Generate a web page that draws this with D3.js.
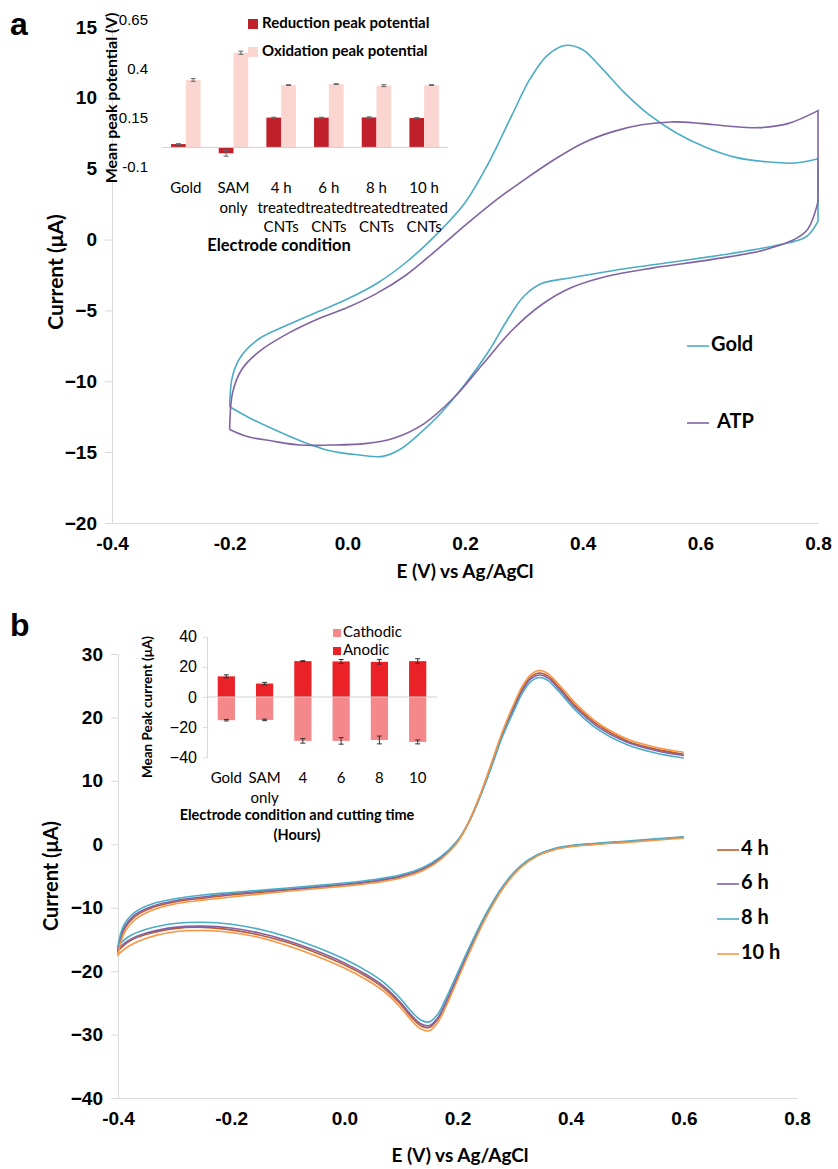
<!DOCTYPE html>
<html>
<head>
<meta charset="utf-8">
<script src="https://cdn.jsdelivr.net/npm/d3@7/dist/d3.min.js"></script>
<style>
body { margin: 0; background: #fff; }
svg { display: block; font-family: 'Lato', 'Noto Sans', sans-serif; }
.axis path, .axis line { stroke: #d9d9d9; }
.axis text { fill: #000; }
</style>
</head>
<body>
<svg width="838" height="1169"></svg>
<script>
// ---- panel a data: cyclic voltammograms (E in V, I in uA), forward and reverse sweeps ----
var goldForward = [
    [-0.2, -11.8], [-0.195, -9.6], [-0.18, -8.2], [-0.15, -7.0], [-0.1, -6.0], [-0.05, -5.1],
    [0.0, -4.2], [0.05, -3.1], [0.1, -1.6], [0.15, 0.3], [0.2, 2.6], [0.24, 5.4], [0.28, 8.8],
    [0.31, 11.3], [0.34, 13.0], [0.37, 13.7], [0.4, 13.4], [0.43, 12.2], [0.47, 10.4], [0.51, 8.9],
    [0.56, 7.5], [0.61, 6.5], [0.66, 5.8], [0.71, 5.5], [0.76, 5.4], [0.8, 5.7]
];
var goldReverse = [
    [0.8, 1.3], [0.78, 0.2], [0.73, -0.4], [0.65, -1.0], [0.55, -1.6], [0.45, -2.2], [0.38, -2.7],
    [0.33, -3.1], [0.3, -4.0], [0.27, -5.8], [0.24, -7.9], [0.2, -10.2], [0.16, -12.2], [0.12, -13.8],
    [0.09, -14.8], [0.06, -15.3], [0.02, -15.2], [-0.03, -14.9], [-0.08, -14.2], [-0.13, -13.3],
    [-0.17, -12.5], [-0.2, -11.8]
];
var atpForward = [
    [-0.2, -13.4], [-0.195, -10.8], [-0.18, -9.2], [-0.15, -7.9], [-0.1, -6.6], [-0.05, -5.6],
    [0.0, -4.8], [0.05, -3.8], [0.1, -2.5], [0.15, -0.8], [0.2, 1.0], [0.25, 2.7], [0.3, 4.2],
    [0.35, 5.6], [0.4, 6.8], [0.45, 7.6], [0.5, 8.1], [0.55, 8.3], [0.6, 8.2], [0.65, 8.0],
    [0.7, 7.9], [0.75, 8.2], [0.8, 9.1]
];
var atpReverse = [
    [0.8, 2.7], [0.78, 0.6], [0.72, -0.6], [0.62, -1.4], [0.52, -2.0], [0.44, -2.6], [0.38, -3.4],
    [0.33, -4.6], [0.28, -6.4], [0.23, -8.8], [0.18, -11.2], [0.13, -13.0], [0.08, -14.0],
    [0.03, -14.4], [-0.03, -14.5], [-0.08, -14.5], [-0.13, -14.2], [-0.17, -13.9], [-0.2, -13.4]
];

// ---- panel b data: cathodic sweep (0.6 -> -0.4) then anodic sweep (-0.4 -> 0.6) ----
var cv4hDown = [
    [0.6, 1.1], [0.5, 0.4], [0.45, 0.1], [0.4, -0.3], [0.37, -0.8], [0.34, -1.8], [0.31, -3.7],
    [0.28, -6.9], [0.25, -11.4], [0.22, -17.0], [0.2, -21.0], [0.18, -25.0], [0.165, -27.6],
    [0.15, -28.9], [0.135, -28.6], [0.12, -27.4], [0.1, -25.3], [0.07, -22.7], [0.04, -20.9],
    [0.0, -19.0], [-0.05, -17.1], [-0.1, -15.5], [-0.15, -14.3], [-0.2, -13.5], [-0.25, -13.1],
    [-0.3, -13.3], [-0.35, -14.2], [-0.38, -15.3], [-0.4, -16.8]
];
var cv4hUp = [
    [-0.4, -16.8], [-0.39, -13.6], [-0.37, -11.4], [-0.34, -10.0], [-0.3, -9.1], [-0.25, -8.5],
    [-0.2, -8.0], [-0.1, -7.2], [0.0, -6.4], [0.05, -5.9], [0.1, -5.1], [0.14, -3.9], [0.17, -2.3],
    [0.2, 0.4], [0.22, 3.5], [0.24, 7.7], [0.26, 12.6], [0.28, 17.6], [0.3, 21.8], [0.315, 24.6],
    [0.33, 26.4], [0.345, 27.0], [0.36, 26.5], [0.38, 24.7], [0.41, 21.7], [0.45, 18.7],
    [0.5, 16.3], [0.55, 15.0], [0.6, 14.2]
];
var cv6hDown = [
    [0.6, 1.1], [0.5, 0.4], [0.45, 0.1], [0.4, -0.3], [0.37, -0.8], [0.34, -1.8], [0.31, -3.6],
    [0.28, -6.8], [0.25, -11.2], [0.22, -16.8], [0.2, -20.8], [0.18, -24.8], [0.165, -27.4],
    [0.15, -28.6], [0.135, -28.3], [0.12, -27.1], [0.1, -25.0], [0.07, -22.4], [0.04, -20.6],
    [0.0, -18.7], [-0.05, -16.8], [-0.1, -15.2], [-0.15, -14.0], [-0.2, -13.2], [-0.25, -12.9],
    [-0.3, -13.1], [-0.35, -14.0], [-0.38, -15.1], [-0.4, -16.5]
];
var cv6hUp = [
    [-0.4, -16.5], [-0.39, -13.3], [-0.37, -11.1], [-0.34, -9.8], [-0.3, -8.9], [-0.25, -8.3],
    [-0.2, -7.8], [-0.1, -7.1], [0.0, -6.3], [0.05, -5.8], [0.1, -5.0], [0.14, -3.8], [0.17, -2.2],
    [0.2, 0.5], [0.22, 3.5], [0.24, 7.6], [0.26, 12.4], [0.28, 17.4], [0.3, 21.5], [0.315, 24.3],
    [0.33, 26.1], [0.345, 26.7], [0.36, 26.2], [0.38, 24.4], [0.41, 21.4], [0.45, 18.4],
    [0.5, 16.1], [0.55, 14.8], [0.6, 14.0]
];
var cv8hDown = [
    [0.6, 1.2], [0.5, 0.5], [0.45, 0.2], [0.4, -0.2], [0.37, -0.7], [0.34, -1.7], [0.31, -3.5],
    [0.28, -6.6], [0.25, -11.0], [0.22, -16.4], [0.2, -20.3], [0.18, -24.2], [0.165, -26.8],
    [0.15, -28.0], [0.135, -27.7], [0.12, -26.5], [0.1, -24.4], [0.07, -21.8], [0.04, -20.0],
    [0.0, -18.1], [-0.05, -16.2], [-0.1, -14.6], [-0.15, -13.4], [-0.2, -12.6], [-0.25, -12.3],
    [-0.3, -12.5], [-0.35, -13.4], [-0.38, -14.5], [-0.4, -16.0]
];
var cv8hUp = [
    [-0.4, -16.0], [-0.39, -12.8], [-0.37, -10.7], [-0.34, -9.4], [-0.3, -8.6], [-0.25, -8.0],
    [-0.2, -7.6], [-0.1, -6.9], [0.0, -6.1], [0.05, -5.6], [0.1, -4.8], [0.14, -3.6], [0.17, -2.0],
    [0.2, 0.6], [0.22, 3.5], [0.24, 7.5], [0.26, 12.2], [0.28, 17.1], [0.3, 21.1], [0.315, 23.9],
    [0.33, 25.7], [0.345, 26.3], [0.36, 25.8], [0.38, 24.0], [0.41, 21.0], [0.45, 18.0],
    [0.5, 15.7], [0.55, 14.4], [0.6, 13.6]
];
var cv10hDown = [
    [0.6, 1.0], [0.5, 0.3], [0.45, 0.0], [0.4, -0.4], [0.37, -0.9], [0.34, -1.9], [0.31, -3.8],
    [0.28, -7.0], [0.25, -11.6], [0.22, -17.3], [0.2, -21.4], [0.18, -25.5], [0.165, -28.1],
    [0.15, -29.4], [0.135, -29.1], [0.12, -27.9], [0.1, -25.8], [0.07, -23.2], [0.04, -21.4],
    [0.0, -19.5], [-0.05, -17.6], [-0.1, -16.0], [-0.15, -14.7], [-0.2, -13.9], [-0.25, -13.6],
    [-0.3, -13.8], [-0.35, -14.8], [-0.38, -16.0], [-0.4, -17.4]
];
var cv10hUp = [
    [-0.4, -17.4], [-0.39, -14.2], [-0.37, -11.9], [-0.34, -10.4], [-0.3, -9.4], [-0.25, -8.8],
    [-0.2, -8.3], [-0.1, -7.4], [0.0, -6.6], [0.05, -6.1], [0.1, -5.3], [0.14, -4.1], [0.17, -2.4],
    [0.2, 0.3], [0.22, 3.5], [0.24, 7.8], [0.26, 12.8], [0.28, 17.9], [0.3, 22.2], [0.315, 25.0],
    [0.33, 26.8], [0.345, 27.4], [0.36, 26.9], [0.38, 25.1], [0.41, 22.1], [0.45, 19.0],
    [0.5, 16.6], [0.55, 15.3], [0.6, 14.5]
];

// ---- axis ticks ----
var potentialTicks = [-0.4, -0.2, 0.0, 0.2, 0.4, 0.6, 0.8];
var currentTicksA = [-20, -15, -10, -5, 0, 5, 10, 15];
var currentTicksB = [-40, -30, -20, -10, 0, 10, 20, 30];

// ---- inset a: peak potentials ----
var insetACategories = [['Gold'], ['SAM', 'only'], ['4 h', 'treated', 'CNTs'], ['6 h', 'treated', 'CNTs'],
    ['8 h', 'treated', 'CNTs'], ['10 h', 'treated', 'CNTs']];
var reductionPeak = [0.017, -0.03, 0.152, 0.152, 0.153, 0.150];
var reductionErr = [0.002, 0.015, 0.002, 0.002, 0.003, 0.002];
var oxidationPeak = [0.344, 0.483, 0.318, 0.323, 0.315, 0.318];
var oxidationErr = [0.007, 0.008, 0.002, 0.002, 0.005, 0.002];
var insetATicks = [-0.1, 0.15, 0.4, 0.65];

// ---- inset b: peak currents ----
var insetBCategories = [['Gold'], ['SAM', 'only'], ['4'], ['6'], ['8'], ['10']];
var anodicPeak = [13.7, 8.9, 23.8, 23.6, 23.3, 23.8];
var anodicErr = [1.0, 0.8, 0.3, 1.3, 1.5, 1.6];
var cathodicPeak = [-15.4, -15.2, -29.1, -29.1, -28.5, -29.8];
var cathodicErr = [0.5, 0.5, 1.5, 2.2, 2.6, 1.3];
var insetBTicks = [-40, -20, 0, 20, 40];

var svg = d3.select('svg');
var fmt1 = function(d){ return d.toFixed(1); };

// draws one main CV panel; each series is a list of sweeps joined by straight segments
function drawPanel(pad, yDomain, yTicks, series) {
    var x = d3.scaleLinear().domain([-0.4, 0.8]).range([pad.l, pad.r]);
    var y = d3.scaleLinear().domain(yDomain).range([pad.b, pad.t]);

    var yAxis = svg.append('g')
        .attr('class', 'axis')
        .attr('transform', 'translate(' + pad.l + ',0)')
        .call(d3.axisLeft(y).tickValues(yTicks).tickSize(7).tickSizeOuter(0).tickPadding(8));
    yAxis.selectAll('text').style('font-size', '19px').style('font-weight', 'bold');

    var xAxis = svg.append('g')
        .attr('class', 'axis')
        .attr('transform', 'translate(0,' + pad.b + ')')
        .call(d3.axisBottom(x).tickValues(potentialTicks).tickSize(0).tickSizeOuter(0)
            .tickPadding(14).tickFormat(fmt1));
    xAxis.selectAll('text').style('font-size', '19px').style('font-weight', 'bold');

    var line = d3.line()
        .x(function(d){ return x(d[0]); })
        .y(function(d){ return y(d[1]); })
        .curve(d3.curveCatmullRom.alpha(0.5));

    series.forEach(function(s){
        var d = s.sweeps.map(function(sw, i){
            var p = line(sw);
            return i ? 'L' + p.slice(1) : p;
        }).join('');
        svg.append('path')
            .attr('d', d)
            .attr('fill', 'none')
            .attr('stroke', s.color)
            .attr('stroke-width', 1.6);
    });
}

var padA = {l: 112, r: 818, t: 27, b: 523};
drawPanel(padA, [-20, 15], currentTicksA, [
    {sweeps: [goldForward, goldReverse], color: '#4bacc6'},
    {sweeps: [atpForward, atpReverse], color: '#8064a2'}
]);

var padB = {l: 118, r: 797, t: 654, b: 1098};
drawPanel(padB, [-40, 30], currentTicksB, [
    {sweeps: [cv4hDown, cv4hUp], color: '#c0592b'},
    {sweeps: [cv6hDown, cv6hUp], color: '#7f62a8'},
    {sweeps: [cv8hDown, cv8hUp], color: '#4bacc6'},
    {sweeps: [cv10hDown, cv10hUp], color: '#f79646'}
]);

// panel letters
svg.append('text').attr('x', 10).attr('y', 35).text('a')
    .style('font-family', 'Liberation Sans, Arial, sans-serif').style('font-size', '32px').style('font-weight', 'bold');
svg.append('text').attr('x', 10).attr('y', 636).text('b')
    .style('font-family', 'Liberation Sans, Arial, sans-serif').style('font-size', '32px').style('font-weight', 'bold');

// axis titles
function axisTitle(x, y, txt, rotate, size) {
    svg.append('text')
        .attr('transform', 'translate(' + [x, y] + ')' + (rotate ? ' rotate(-90)' : ''))
        .attr('text-anchor', 'middle')
        .attr('dominant-baseline', 'middle')
        .style('font-size', size + 'px')
        .style('font-weight', 'bold')
        .text(txt);
}
axisTitle(58, 272, 'Current (\u03bcA)', true, 21);
axisTitle(465, 573, 'E (V) vs Ag/AgCl', false, 19);
axisTitle(53, 876, 'Current (\u03bcA)', true, 20);
axisTitle(460, 1157, 'E (V) vs Ag/AgCl', false, 19);

// main legends
function legendItem(x, y, color, label, gap) {
    svg.append('line').attr('x1', x).attr('x2', x + 22).attr('y1', y).attr('y2', y)
        .attr('stroke', color).attr('stroke-width', 1.6);
    svg.append('text').attr('x', x + 24 + (gap || 0)).attr('y', y)
        .attr('dominant-baseline', 'middle')
        .style('font-size', '20px').style('font-weight', 'bold').text(label);
}
legendItem(687, 346, '#4bacc6', 'Gold');
legendItem(687, 423, '#8064a2', 'ATP', 6);
legendItem(717, 850, '#c0592b', '4 h');
legendItem(717, 884, '#7f62a8', '6 h');
legendItem(717, 919, '#4bacc6', '8 h');
legendItem(717, 954, '#f79646', '10 h');

// error bar helper
function errorBar(g, cx, yTop, yBot, color) {
    g.append('line').attr('x1', cx).attr('x2', cx).attr('y1', yTop).attr('y2', yBot).attr('stroke', color);
    g.append('line').attr('x1', cx - 2.5).attr('x2', cx + 2.5).attr('y1', yTop).attr('y2', yTop).attr('stroke', color);
    g.append('line').attr('x1', cx - 2.5).attr('x2', cx + 2.5).attr('y1', yBot).attr('y2', yBot).attr('stroke', color);
}

// ---- inset a ----
var insetA = svg.append('g');
var xIa = d3.scaleBand().domain(d3.range(6)).range([162, 448]).paddingInner(0.38).paddingOuter(0.19);
var yIa = d3.scaleLinear().domain([-0.1, 0.65]).range([167, 20]);
var bw = xIa.bandwidth() / 2;

insetA.append('g')
    .attr('class', 'axis')
    .attr('transform', 'translate(152,0)')
    .call(d3.axisLeft(yIa).tickValues(insetATicks).tickSize(0).tickPadding(4)
        .tickFormat(function(d){ return String(d); }))
    .call(function(g){ g.select('.domain').remove(); })
    .selectAll('text').style('font-size', '15px');

insetA.selectAll('.red').data(reductionPeak).enter().append('rect')
    .attr('x', function(d, i){ return xIa(i); })
    .attr('y', function(d){ return yIa(Math.max(0, d)); })
    .attr('width', bw)
    .attr('height', function(d){ return Math.abs(yIa(d) - yIa(0)); })
    .attr('fill', '#c0202a');
insetA.selectAll('.pink').data(oxidationPeak).enter().append('rect')
    .attr('x', function(d, i){ return xIa(i) + bw; })
    .attr('y', function(d){ return yIa(d); })
    .attr('width', bw)
    .attr('height', function(d){ return yIa(0) - yIa(d); })
    .attr('fill', '#fbd6d1');

insetA.append('line').attr('x1', 162).attr('x2', 448).attr('y1', yIa(0)).attr('y2', yIa(0))
    .attr('stroke', '#d0d0d0');

reductionPeak.forEach(function(d, i){
    errorBar(insetA, xIa(i) + bw / 2, yIa(d + reductionErr[i]), yIa(d - reductionErr[i]), '#666');
});
oxidationPeak.forEach(function(d, i){
    errorBar(insetA, xIa(i) + bw * 1.5, yIa(d + oxidationErr[i]), yIa(d - oxidationErr[i]), '#666');
});

insetACategories.forEach(function(lines, i){
    var t = insetA.append('text').attr('text-anchor', 'middle').style('font-size', '15px');
    lines.forEach(function(l, j){
        t.append('tspan').attr('x', xIa(i) + xIa.bandwidth() / 2).attr('y', 193 + j * 19.5).text(l);
    });
});
insetA.append('text').attr('x', 279).attr('y', 251).attr('text-anchor', 'middle')
    .style('font-size', '16.5px').style('font-weight', 'bold').text('Electrode condition');
insetA.append('text')
    .attr('transform', 'translate(' + [117, 98] + ') rotate(-90)')
    .attr('text-anchor', 'middle')
    .style('font-size', '16px').style('font-weight', 'bold').text('Mean peak potential (V)');

// inset a legend
insetA.append('rect').attr('x', 248).attr('y', 19).attr('width', 10).attr('height', 10).attr('fill', '#c0202a');
insetA.append('text').attr('x', 262).attr('y', 24).attr('dominant-baseline', 'middle')
    .style('font-size', '15px').style('font-weight', 'bold').text('Reduction peak potential');
insetA.append('rect').attr('x', 248).attr('y', 47).attr('width', 10).attr('height', 10).attr('fill', '#fbd6d1');
insetA.append('text').attr('x', 262).attr('y', 52).attr('dominant-baseline', 'middle')
    .style('font-size', '15px').style('font-weight', 'bold').text('Oxidation peak potential');

// ---- inset b ----
var insetB = svg.append('g');
var xIb = d3.scaleBand().domain(d3.range(6)).range([207, 437]).paddingInner(0.55).paddingOuter(0.28);
var yIb = d3.scaleLinear().domain([-40, 40]).range([757.3, 636.7]);

insetB.append('g')
    .attr('class', 'axis')
    .attr('transform', 'translate(207,0)')
    .call(d3.axisLeft(yIb).tickValues(insetBTicks).tickSize(4).tickSizeOuter(0).tickPadding(6))
    .selectAll('text').style('font-size', '16px');

insetB.selectAll('.cath').data(cathodicPeak).enter().append('rect')
    .attr('x', function(d, i){ return xIb(i); })
    .attr('y', yIb(0))
    .attr('width', xIb.bandwidth())
    .attr('height', function(d){ return yIb(d) - yIb(0); })
    .attr('fill', '#f4888a');
insetB.selectAll('.anod').data(anodicPeak).enter().append('rect')
    .attr('x', function(d, i){ return xIb(i); })
    .attr('y', function(d){ return yIb(d); })
    .attr('width', xIb.bandwidth())
    .attr('height', function(d){ return yIb(0) - yIb(d); })
    .attr('fill', '#ea2228');

insetB.append('line').attr('x1', 207).attr('x2', 437).attr('y1', yIb(0)).attr('y2', yIb(0))
    .attr('stroke', '#d0d0d0');

anodicPeak.forEach(function(d, i){
    errorBar(insetB, xIb(i) + xIb.bandwidth() / 2, yIb(d + anodicErr[i]), yIb(d - anodicErr[i]), '#333');
});
cathodicPeak.forEach(function(d, i){
    errorBar(insetB, xIb(i) + xIb.bandwidth() / 2, yIb(d + cathodicErr[i]), yIb(d - cathodicErr[i]), '#333');
});

insetBCategories.forEach(function(lines, i){
    var t = insetB.append('text').attr('text-anchor', 'middle').style('font-size', '15px');
    lines.forEach(function(l, j){
        t.append('tspan').attr('x', xIb(i) + xIb.bandwidth() / 2).attr('y', 783 + j * 20).text(l);
    });
});
insetB.append('text').attr('x', 297).attr('y', 820).attr('text-anchor', 'middle')
    .style('font-size', '14.5px').style('font-weight', 'bold').text('Electrode condition and cutting time');
insetB.append('text').attr('x', 297).attr('y', 840).attr('text-anchor', 'middle')
    .style('font-size', '14.5px').style('font-weight', 'bold').text('(Hours)');
insetB.append('text')
    .attr('transform', 'translate(' + [152, 707] + ') rotate(-90)')
    .attr('text-anchor', 'middle')
    .style('font-size', '13.5px').style('font-weight', 'bold').text('Mean Peak current (\u03bcA)');

// inset b legend
insetB.append('rect').attr('x', 333).attr('y', 629).attr('width', 8).attr('height', 8).attr('fill', '#f4888a');
insetB.append('text').attr('x', 343).attr('y', 633).attr('dominant-baseline', 'middle')
    .style('font-size', '15px').text('Cathodic');
insetB.append('rect').attr('x', 333).attr('y', 647).attr('width', 8).attr('height', 8).attr('fill', '#ea2228');
insetB.append('text').attr('x', 343).attr('y', 651).attr('dominant-baseline', 'middle')
    .style('font-size', '15px').text('Anodic');
</script>
</body>
</html>
